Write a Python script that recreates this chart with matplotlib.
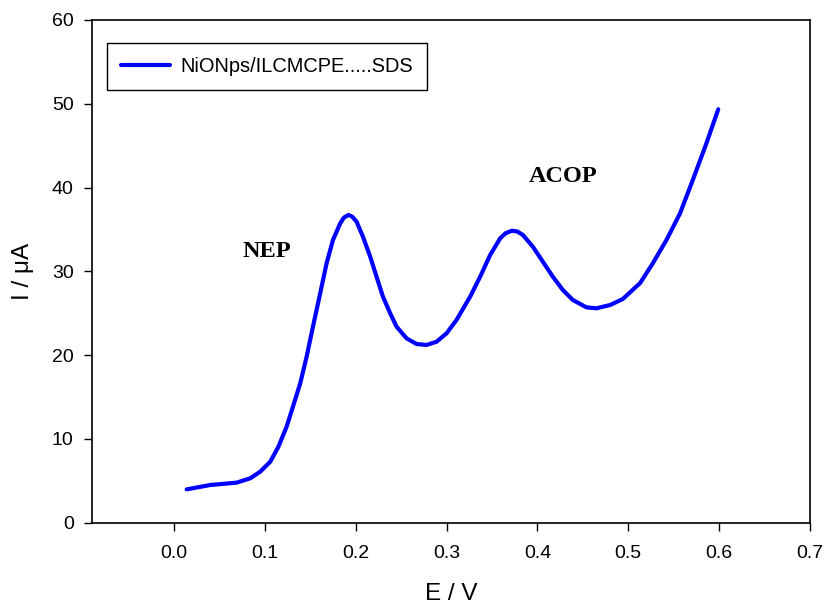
import numpy as np
import matplotlib
matplotlib.use("Agg")
from matplotlib import pyplot as plt

# values (E in V, I in uA)
e_vals = [0.014, 0.040, 0.069, 0.084, 0.095, 0.106, 0.115, 0.124, 0.131, 0.139,
          0.146, 0.153, 0.161, 0.168, 0.175, 0.183, 0.187, 0.192, 0.196, 0.201,
          0.208, 0.216, 0.223, 0.230, 0.238, 0.245, 0.256, 0.267, 0.278, 0.289,
          0.300, 0.311, 0.326, 0.337, 0.348, 0.359, 0.365, 0.372, 0.378, 0.384,
          0.395, 0.406, 0.417, 0.428, 0.439, 0.454, 0.465, 0.480, 0.494, 0.513,
          0.527, 0.542, 0.557, 0.571, 0.586, 0.599]
i_vals = [3.98, 4.50, 4.78, 5.30, 6.09, 7.28, 9.07, 11.46, 13.85, 16.64,
          19.80, 23.40, 27.40, 30.96, 33.74, 35.73, 36.40, 36.73, 36.55, 35.93,
          34.14, 31.75, 29.36, 26.98, 24.99, 23.40, 22.00, 21.33, 21.21, 21.60,
          22.60, 24.20, 26.98, 29.36, 31.95, 33.94, 34.55, 34.85, 34.75, 34.34,
          32.94, 31.15, 29.36, 27.77, 26.58, 25.70, 25.59, 25.98, 26.70, 28.60,
          30.96, 33.74, 36.93, 40.90, 45.28, 49.34]
series_name = "NiONps/ILCMCPE.....SDS"
peak_names = ["NEP", "ACOP"]
peak_pos = [(0.102, 32.4), (0.428, 41.3)]

fig = plt.figure(figsize=(8.29, 6.09), dpi=100)
ax = fig.add_axes([0.1106, 0.1417, 0.8665, 0.8255])

ax.plot(e_vals, i_vals, color="#0000ff", linewidth=3.0,
        solid_capstyle="round", solid_joinstyle="round", label=series_name)

for name, (px, py) in zip(peak_names, peak_pos):
    ax.text(px, py, name, ha="center", va="center", fontsize=17.5,
            fontweight="bold", family="Liberation Serif")

ax.set_xlim(-0.0905, 0.7)
ax.set_ylim(0, 60)
ax.set_xticks(np.arange(0, 0.71, 0.1))
ax.set_xticklabels(["0.0", "0.1", "0.2", "0.3", "0.4", "0.5", "0.6", "0.7"])
ax.set_yticks(range(0, 61, 10))

# set labels
ax.set_xlabel("E / V", fontsize=17.5, family="Liberation Sans", labelpad=15)
ax.set_ylabel("I / \u03bcA", fontsize=17.5, family="Liberation Sans", labelpad=13)

ax.tick_params(direction="out", length=6, width=1, labelsize=14, colors="black")
ax.tick_params(axis="x", pad=10)
ax.tick_params(axis="y", pad=7)
for lab in ax.get_xticklabels() + ax.get_yticklabels():
    lab.set_family("Liberation Sans")
for sp in ax.spines.values():
    sp.set_linewidth(1.2)

leg = ax.legend(loc="upper left", bbox_to_anchor=(0.022, 0.954), borderaxespad=0,
                fancybox=False, edgecolor="black", framealpha=1, handlelength=2.45,
                prop={"family": "Liberation Sans", "size": 14.4},
                borderpad=0.7, handletextpad=0.5)
leg.get_frame().set_linewidth(1.0)

fig.savefig("out.png", dpi=100)
